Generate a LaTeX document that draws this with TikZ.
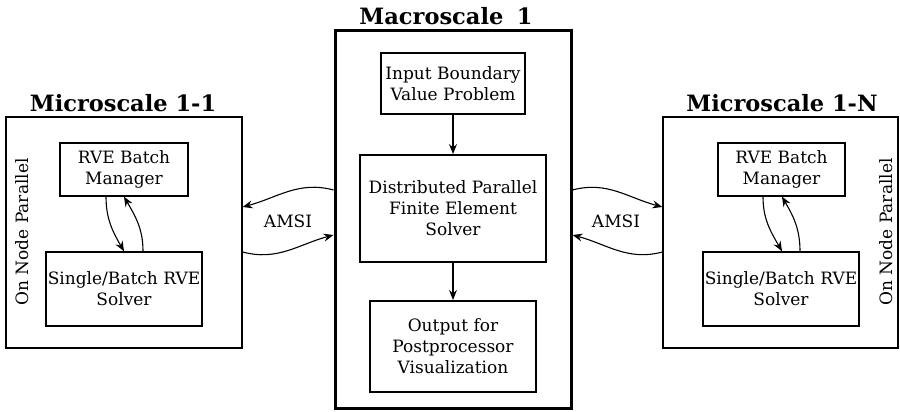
\documentclass[tikz,border=0pt]{standalone}
\usepackage{fontspec}
\setmainfont{DejaVu Serif}
\usetikzlibrary{arrows.meta,calc}
\begin{document}
\begin{tikzpicture}[x=1pt,y=1pt,
  txt/.style={font=\fontsize{17}{21}\selectfont, inner sep=0pt},
  blk/.style={draw, align=center, inner sep=0pt, font=\fontsize{17}{21}\selectfont},
  title/.style={font=\bfseries\fontsize{22.5}{26}\selectfont, inner sep=0pt},
  arr/.style={-{Stealth[length=10pt,width=8pt,inset=3.5pt]}, line width=1.1pt},
]
\useasboundingbox (0,0) rectangle (900,412);

% containers
\node[draw, line width=1.3pt, minimum width=236, minimum height=231] (lmic) at (124,179.5) {};
\node[draw, line width=1.3pt, minimum width=235, minimum height=231] (rmic) at (780.5,179.5) {};
\node[draw, line width=3pt, minimum width=236, minimum height=378] (mac) at (453,192) {};

% titles
\node[title] (tl) at (123,309) {Microscale 1-1};
\node[title] (tm) at (446,396) {Macroscale\hspace{0.6em}1};
\node[title] (tr) at (782,309) {Microscale 1-N};

% side labels
\node[txt, rotate=90] (onl) at (22,180) {On Node Parallel};
\node[txt, rotate=90] (onr) at (886,180) {On Node Parallel};

% macro blocks
\node[blk, line width=2.5pt, minimum width=144, minimum height=61] (inp) at (453,328.5) {Input Boundary\\Value Problem};
\node[blk, line width=2pt, minimum width=186, minimum height=107] (dist) at (453,203.5) {Distributed Parallel\\Finite Element\\Solver};
\node[blk, line width=2.2pt, minimum width=166, minimum height=91] (out) at (453,65.5) {Output for\\Postprocessor\\Visualization};

% micro blocks
\node[blk, line width=1.2pt, minimum width=128, minimum height=53] (lm) at (124,242.5) {RVE Batch\\Manager};
\node[blk, line width=1.5pt, minimum width=156, minimum height=74] (ls) at (124,123) {Single/Batch RVE\\Solver};
\node[blk, line width=1.2pt, minimum width=127, minimum height=53] (rm) at (781.5,242.5) {RVE Batch\\Manager};
\node[blk, line width=1.5pt, minimum width=156, minimum height=74] (rs) at (781,123) {Single/Batch RVE\\Solver};

% AMSI labels
\node[txt] (al) at (288,191) {AMSI};
\node[txt] (ar) at (616,191) {AMSI};

% macro arrows
\draw[arr] (inp) -- (dist);
\draw[arr] (dist) -- (out);

% AMSI connectors
\draw[arr] ([yshift=30]mac.west) to[out=165,in=15] ([yshift=25.5]lmic.east);
\draw[arr] ([yshift=-19.5]lmic.east) to[out=-15,in=195] ([yshift=-15]mac.west);
\draw[arr] ([yshift=30]mac.east) to[out=15,in=165] ([yshift=25.5]rmic.west);
\draw[arr] ([yshift=-19.5]rmic.west) to[out=195,in=-15] ([yshift=-15]mac.east);

% micro loops
\draw[arr] ([xshift=-18]lm.south) to[out=-90,in=120] (ls.north);
\draw[arr] ([xshift=19]ls.north) to[out=90,in=-60] (lm.south);
\draw[arr] ([xshift=-18.5]rm.south) to[out=-90,in=120] ([xshift=1]rs.north);
\draw[arr] ([xshift=19]rs.north) to[out=90,in=-60] ([xshift=0.5]rm.south);
\end{tikzpicture}
\end{document}
